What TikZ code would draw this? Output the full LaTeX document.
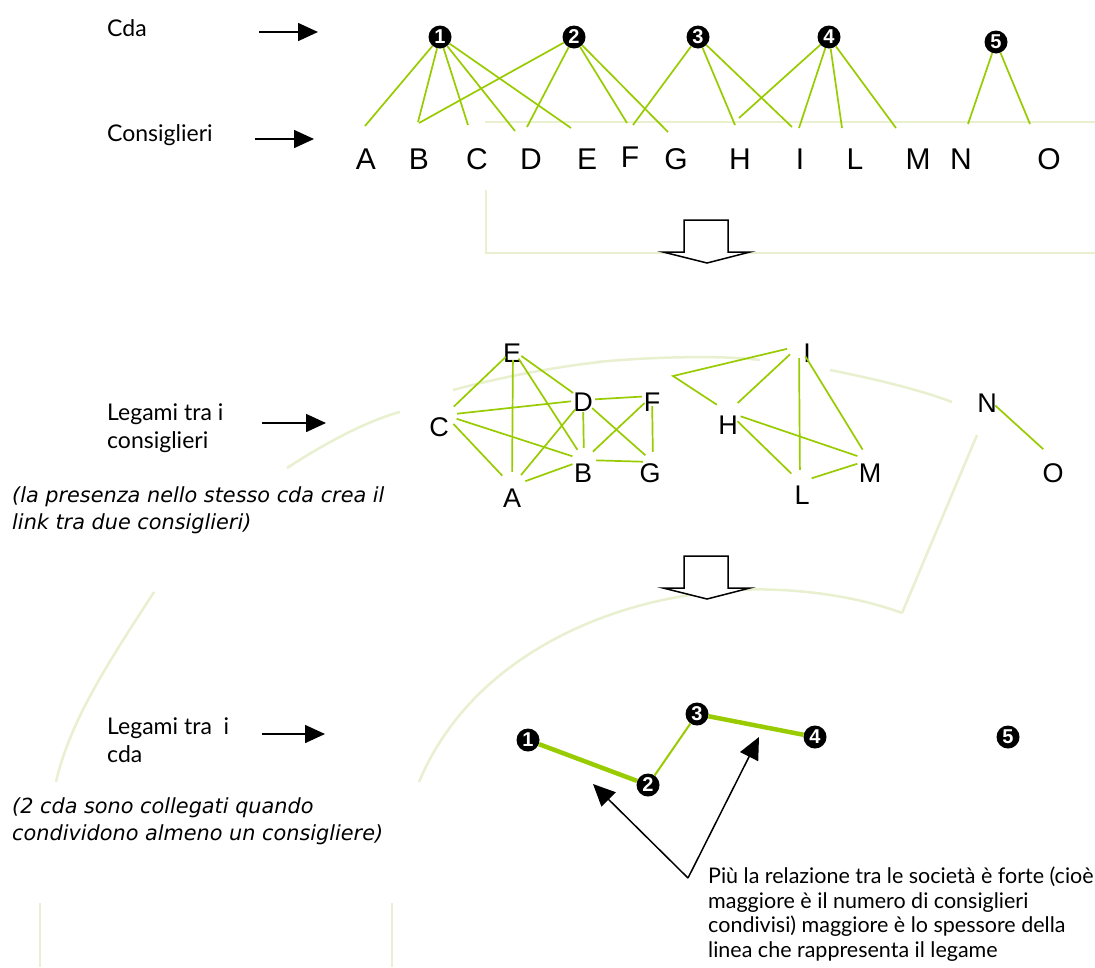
\documentclass[tikz,border=0pt]{standalone}
\usepackage{fontspec}
\setmainfont{Lato}
\newfontfamily\arialf{Liberation Sans}
\newfontfamily\obliq{DejaVu Sans}
\usetikzlibrary{arrows.meta,calc}
\definecolor{lg}{RGB}{153,204,0}
\definecolor{faint}{RGB}{232,240,208}
\begin{document}
\begin{tikzpicture}[x=1pt,y=-1pt,
  lbl/.style={font=\fontsize{23}{28}\selectfont, anchor=west, align=left, inner sep=0pt},
  itl/.style={font=\obliq\itshape\fontsize{20.8}{27}\selectfont, anchor=west, align=left, inner sep=0pt},
  note/.style={font=\fontsize{21.5}{24.5}\selectfont, anchor=west, align=left, inner sep=0pt},
  blk/.style={line width=1.6pt, -{Triangle[length=20pt,width=18pt]}},
  blk2/.style={line width=1.5pt, -{Triangle[length=22pt,width=20pt]}},
  cda/.style={circle, fill=black, inner sep=0pt, minimum size=23pt, text=white,
              font=\arialf\bfseries\fontsize{20}{20}\selectfont},
  letr/.style={font=\arialf\fontsize{30}{30}\selectfont, inner sep=0pt},
  vtx/.style={circle, inner sep=0pt, minimum size=24pt},
  vl/.style={font=\arialf\fontsize{27}{27}\selectfont, inner sep=0pt},
  gl/.style={draw=lg, line width=1.7pt},
  bg/.style={draw=faint, line width=2.5pt},
  barrow/.style={draw=black, line width=1.5pt, fill=white, line join=miter}]
\useasboundingbox (0,0) rectangle (1095,967);
\fill[white] (0,0) rectangle (1095,967);

% faint background traces
\draw[bg] (486,190) -- (486,253) -- (1095,253);
\draw[bg, line width=1.5pt] (485,122) -- (1095,122);
\draw[bg] (287,468) .. controls (330,440) and (370,420) .. (400,412);
\draw[bg] (453,390) .. controls (520,372) and (580,364) .. (600,362);
\draw[bg] (597,362) .. controls (650,357) and (720,355) .. (760,360);
\draw[bg] (830,370) .. controls (880,380) and (920,390) .. (952,402);
\draw[bg] (977,435) -- (902,613);
\draw[bg] (902,613) .. controls (840,590) and (760,585) .. (705,593)
                     .. controls (600,605) and (470,660) .. (419,782);
\draw[bg] (154,592) .. controls (110,660) and (70,720) .. (56,782);
\draw[bg, line width=2pt] (40,903) -- (40,967);
\draw[bg, line width=2pt] (392,903) -- (392,967);

% ---------- top: Cda and consiglieri ----------
\node[lbl] (tcda) at (107,28) {Cda};
\node[lbl] (tcons) at (107,135) {Consiglieri};
\coordinate (a1s) at (259,32); \coordinate (a1e) at (318,32);
\coordinate (a2s) at (255,139); \coordinate (a2e) at (314,139);
\draw[blk] (a1s) -- (a1e);
\draw[blk] (a2s) -- (a2e);

\node[cda] (c1) at (440,37) {1};
\node[cda] (c2) at (574,37) {2};
\node[cda] (c3) at (698,37) {3};
\node[cda] (c4) at (829,37) {4};
\node[cda] (c5) at (996,42) {5};

\node[letr] (A) at (366,159) {A};
\node[letr] (B) at (419,159) {B};
\node[letr] (C) at (477,159) {C};
\node[letr] (D) at (531,159) {D};
\node[letr] (E) at (587,159) {E};
\node[letr] (F) at (630,157) {F};
\node[letr] (G) at (676,159) {G};
\node[letr] (H) at (740,159) {H};
\node[letr] (I) at (800,159) {I};
\node[letr] (L) at (855,159) {L};
\node[letr] (M) at (918,159) {M};
\node[letr] (N) at (961,159) {N};
\node[letr] (O) at (1049,159) {O};

\coordinate (e1A) at (365,126);
\coordinate (e1B) at (418,122);
\coordinate (e1C) at (468,125);
\coordinate (e1D) at (515,131);
\coordinate (e1E) at (571,128);
\coordinate (e2B) at (419,123);
\coordinate (e2D) at (527,127);
\coordinate (e2F) at (627,123);
\coordinate (e2G) at (668,132);
\coordinate (e3F) at (633,125);
\coordinate (e3H) at (735,125);
\coordinate (e3I) at (792,127);
\coordinate (e4H) at (739,118);
\coordinate (e4I) at (799,128);
\coordinate (e4L) at (842,128);
\coordinate (e4M) at (896,128);
\coordinate (e5N) at (968,124);
\coordinate (e5O) at (1030,124);

\foreach \s/\t in {c1/e1A,c1/e1B,c1/e1C,c1/e1D,c1/e1E,
                   c2/e2B,c2/e2D,c2/e2F,c2/e2G,
                   c3/e3F,c3/e3H,c3/e3I,
                   c4/e4H,c4/e4I,c4/e4L,c4/e4M,
                   c5/e5N,c5/e5O}
  \draw[gl] (\s) -- (\t);

% block arrow 1
\draw[barrow] (684,220) -- (728,220) -- (728,252) -- (750,252) -- (707,263)
  -- (663,252) -- (684,252) -- cycle;

% ---------- middle: legami tra i consiglieri ----------
\node[lbl] (tleg) at (107,428) {Legami tra i\\consiglieri};
\node[itl] (tpres) at (12,510) {(la presenza nello stesso cda crea il\\link tra due consiglieri)};
\coordinate (a3s) at (262,423); \coordinate (a3e) at (326,423);
\draw[blk] (a3s) -- (a3e);

\node[vtx, minimum size=20pt, label={[vl,yshift=-3pt,xshift=-1pt]center:E}] (mE) at (513,350) {};
\node[vtx, label={[vl,yshift=-2pt]center:D}] (mD) at (583,400) {};
\node[vtx, minimum size=20pt, label={[vl,yshift=-6pt]center:F}] (mF) at (652,396) {};
\node[vtx, label={[vl,xshift=-6pt,yshift=-12pt]center:C}] (mC) at (445,415) {};
\node[vtx, label={[vl,xshift=-1pt,yshift=-13pt]center:B}] (mB) at (584,460) {};
\node[vtx, minimum size=20pt, label={[vl,xshift=-3pt,yshift=-11pt]center:G}] (mG) at (653,462) {};
\node[vtx, minimum size=28pt, label={[vl,yshift=-12pt]center:A}] (mA) at (512,486) {};

\foreach \s/\t in {mC/mE,mC/mD,mC/mB,mC/mA,mE/mA,mE/mB,mE/mD,mD/mA,mA/mB,
                   mD/mB,mD/mF,mD/mG,mF/mB,mF/mG,mB/mG}
  \draw[gl] (\s) -- (\t);

\node[vtx, label={[vl,xshift=8pt,yshift=-7pt]center:I}] (mI) at (799,346) {};
\node[vtx, minimum size=26pt, label={[vl,yshift=-13pt]center:H}] (mH) at (728,412) {};
\node[vtx, label={[vl,xshift=2pt,yshift=-13pt]center:L}] (mL) at (800,482) {};
\node[vtx, label={[vl,xshift=1pt,yshift=-13pt]center:M}] (mM) at (869,460) {};
\node[vtx, minimum size=22pt, label={[vl,yshift=-5pt]center:N}] (mN) at (987,398) {};
\node[vtx, minimum size=26pt, label={[vl,yshift=-15pt]center:O}] (mO) at (1053,458) {};
\coordinate (k) at (673,376);

\draw[gl] (mI) -- (k) -- (mH);
\foreach \s/\t in {mI/mH,mI/mL,mI/mM,mH/mM,mH/mL,mL/mM,mN/mO}
  \draw[gl] (\s) -- (\t);

% block arrow 2
\draw[barrow] (684,556) -- (728,556) -- (728,588) -- (750,588) -- (707,599)
  -- (663,588) -- (684,588) -- cycle;

% ---------- bottom: legami tra i cda ----------
\node[lbl] (tleg2) at (107,740) {Legami tra~ i\\cda};
\node[itl] (tcoll) at (12,821) {(2 cda sono collegati quando\\condividono almeno un consigliere)};
\coordinate (a4s) at (262,734); \coordinate (a4e) at (325,734);
\draw[blk] (a4s) -- (a4e);

\node[cda] (b1) at (528,740) {1};
\node[cda] (b2) at (648,785) {2};
\node[cda] (b3) at (697,714) {3};
\node[cda] (b4) at (815,737) {4};
\node[cda] (b5) at (1008,737) {5};
\draw[draw=lg, line width=4.5pt] (b1) -- (b2);
\draw[draw=lg, line width=2pt] (b2) -- (b3);
\draw[draw=lg, line width=4.5pt] (b3) -- (b4);

\coordinate (base) at (688,878);
\coordinate (tipL) at (593,784);
\coordinate (tipR) at (759,737);
\draw[blk2] (base) -- (tipL);
\draw[blk2] (base) -- (tipR);

\node[note] (tnote) at (708,914) {Più la relazione tra le società è forte (cioè\\
maggiore è il numero di consiglieri\\
condivisi) maggiore è lo spessore della\\
linea che rappresenta il legame};
\end{tikzpicture}
\end{document}
